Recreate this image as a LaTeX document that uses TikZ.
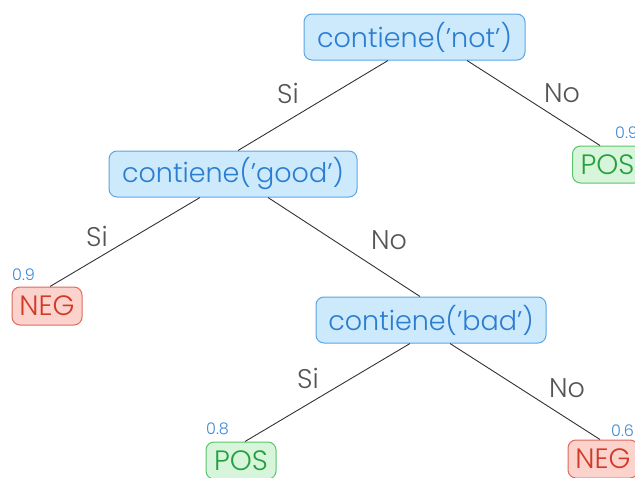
\documentclass[tikz,border=0pt]{standalone}
\usepackage{fontspec}
\setmainfont{Poppins}[UprightFont={* Light}]
\definecolor{testfill}{HTML}{CDE9FC}
\definecolor{testdraw}{HTML}{5AA5E6}
\definecolor{testtext}{HTML}{2A7DD1}
\definecolor{posfill}{HTML}{D6F5DA}
\definecolor{posdraw}{HTML}{5CC46B}
\definecolor{postext}{HTML}{26A03E}
\definecolor{negfill}{HTML}{FCD2CD}
\definecolor{negdraw}{HTML}{E06A5C}
\definecolor{negtext}{HTML}{D23A26}
\definecolor{probtext}{HTML}{3B88D8}
\definecolor{branchtext}{HTML}{555555}
\begin{document}
\begin{tikzpicture}[x=1pt,y=-1pt,
  box/.style={rounded corners=8pt, line width=1pt, inner xsep=0pt, inner ysep=0pt,
    font=\fontsize{27}{30}\selectfont},
  test/.style={box, fill=testfill, draw=testdraw, text=testtext, minimum height=46pt},
  leaf/.style={box, font=\fontsize{28}{32}\selectfont, minimum width=70pt},
  posleaf/.style={leaf, fill=posfill, draw=posdraw, text=postext, minimum height=37pt},
  negleaf/.style={leaf, fill=negfill, draw=negdraw, text=negtext, minimum height=38pt},
  prob/.style={text=probtext, font=\fontsize{16}{18}\selectfont, inner sep=0pt},
  branch/.style={text=branchtext, font=\fontsize{27}{30}\selectfont, inner sep=0pt},
  edge/.style={draw=black!80, line width=0.9pt}]
\useasboundingbox (0,0) rectangle (635,477);

% decision nodes
\node[test, minimum width=221pt] (root) at (414.5,37) {contiene('not')};
\node[test, minimum width=248pt] (good) at (233,174) {contiene('good')};
\node[test, minimum width=230pt] (bad)  at (431,320) {contiene('bad')};

% leaves
\node[posleaf] (posA) at (607.5,164.5) {POS};
\node[negleaf] (negA) at (47,306) {NEG};
\node[posleaf] (posB) at (241,460.5) {POS};
\node[negleaf] (negB) at (603,459) {NEG};

% leaf probabilities
\node[prob, anchor=base west] (pA) at (615,138) {0.9};
\node[prob, anchor=base west] (pB) at (12,280) {0.9};
\node[prob, anchor=base west] (pC) at (206,434) {0.8};
\node[prob, anchor=base west] (pD) at (611,436) {0.6};

% branches
\draw[edge] ([xshift=-26.5pt]root.south) -- ([xshift=5pt]good.north);
\draw[edge] ([xshift=52.5pt]root.south) -- ([xshift=-7.5pt]posA.north);
\draw[edge] ([xshift=-33pt]good.south) -- ([xshift=3pt]negA.north);
\draw[edge] ([xshift=35pt]good.south) -- ([xshift=-11pt]bad.north);
\draw[edge] ([xshift=-21pt]bad.south) -- ([xshift=4pt]posB.north);
\draw[edge] ([xshift=19pt]bad.south) -- ([xshift=-3pt]negB.north);

% branch labels
\node[branch] (l1) at (288,93) {Si};
\node[branch] (l2) at (562,93) {No};
\node[branch] (l3) at (97,236) {Si};
\node[branch] (l4) at (389,240) {No};
\node[branch] (l5) at (308,378) {Si};
\node[branch] (l6) at (567,388) {No};
\end{tikzpicture}
\end{document}
